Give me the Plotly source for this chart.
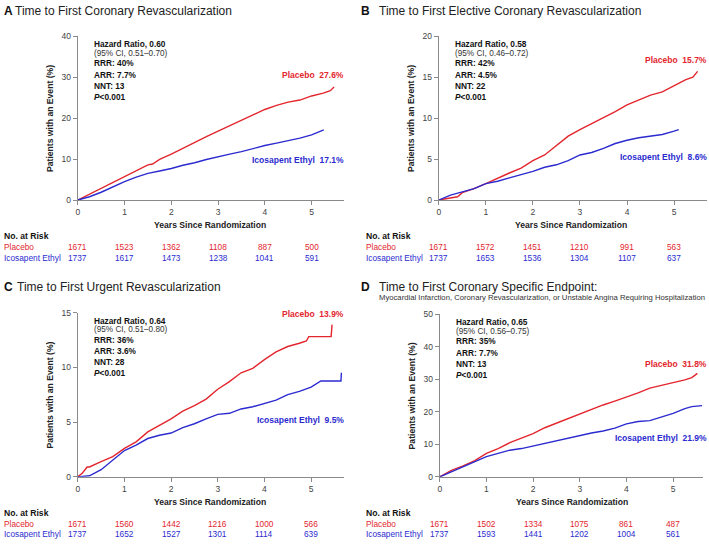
import plotly.graph_objects as go

W, H = 709, 544
RED = "#e3262e"
BLUE = "#2b2bcf"
FONT = "Liberation Sans, Arial, sans-serif"

# ---------------- data ----------------
a_t_pla = [0, 0.25, 0.5, 0.75, 1, 1.25, 1.5, 1.6, 1.75, 2, 2.25, 2.5, 2.75, 3, 3.25, 3.5, 3.75, 4, 4.25, 4.5, 4.75, 5, 5.25, 5.4, 5.48]
a_v_pla = [0, 1.4, 3.0, 4.3, 5.8, 7.2, 8.6, 8.8, 9.9, 11.2, 12.7, 14.1, 15.5, 16.8, 18.1, 19.5, 20.9, 22.1, 23.1, 23.9, 24.4, 25.4, 26.1, 26.7, 27.6]
a_t_ico = [0, 0.25, 0.5, 0.75, 1, 1.25, 1.5, 1.75, 2, 2.25, 2.5, 2.75, 3, 3.25, 3.5, 3.75, 4, 4.25, 4.5, 4.75, 5, 5.26]
a_v_ico = [0, 0.8, 1.9, 3.3, 4.5, 5.6, 6.5, 7.1, 7.7, 8.5, 9.1, 9.9, 10.6, 11.2, 11.8, 12.6, 13.3, 13.9, 14.5, 15.1, 15.9, 17.1]

b_t_pla = [0, 0.25, 0.4, 0.5, 0.75, 1, 1.25, 1.5, 1.75, 2, 2.25, 2.5, 2.75, 3, 3.25, 3.5, 3.75, 4, 4.25, 4.5, 4.75, 5, 5.25, 5.4, 5.5]
b_v_pla = [0, 0.3, 0.4, 0.9, 1.4, 2.0, 2.7, 3.3, 3.9, 4.8, 5.5, 6.7, 7.8, 8.6, 9.3, 10.0, 10.8, 11.6, 12.2, 12.8, 13.2, 13.9, 14.7, 15.0, 15.7]
b_t_ico = [0, 0.25, 0.5, 0.75, 1, 1.25, 1.5, 1.75, 2, 2.25, 2.5, 2.75, 3, 3.25, 3.5, 3.75, 4, 4.25, 4.5, 4.75, 5, 5.1]
b_v_ico = [0, 0.6, 1.0, 1.4, 2.0, 2.3, 2.7, 3.1, 3.5, 4.0, 4.3, 4.8, 5.5, 5.8, 6.3, 6.9, 7.3, 7.6, 7.8, 8.0, 8.4, 8.6]

c_t_pla = [0, 0.1, 0.2, 0.25, 0.5, 0.75, 1, 1.25, 1.5, 1.75, 2, 2.25, 2.5, 2.75, 3, 3.25, 3.5, 3.75, 4, 4.25, 4.5, 4.75, 4.9, 4.95, 5.43, 5.45]
c_v_pla = [0, 0.35, 0.9, 0.9, 1.4, 1.85, 2.6, 3.2, 4.1, 4.7, 5.3, 6.0, 6.5, 7.1, 8.0, 8.7, 9.5, 9.9, 10.7, 11.4, 11.9, 12.2, 12.4, 12.8, 12.8, 13.9]
c_t_ico = [0, 0.25, 0.5, 0.75, 1, 1.25, 1.5, 1.75, 2, 2.25, 2.5, 2.75, 3, 3.25, 3.5, 3.75, 4, 4.25, 4.5, 4.75, 5, 5.21, 5.64, 5.65]
c_v_ico = [0, 0.1, 0.65, 1.55, 2.4, 2.9, 3.5, 3.8, 4.0, 4.5, 4.85, 5.3, 5.7, 5.8, 6.2, 6.4, 6.7, 7.0, 7.5, 7.8, 8.2, 8.75, 8.75, 9.5]

d_t_pla = [0, 0.25, 0.5, 0.75, 1, 1.25, 1.5, 1.75, 2, 2.25, 2.5, 2.75, 3, 3.25, 3.5, 3.75, 4, 4.25, 4.5, 4.75, 5, 5.25, 5.4, 5.52]
d_v_pla = [0, 2.0, 3.4, 5.0, 7.2, 8.7, 10.5, 11.8, 13.3, 15.1, 16.5, 18.0, 19.5, 20.8, 22.1, 23.3, 24.5, 25.8, 27.3, 28.1, 29.1, 29.8, 30.5, 31.8]
d_t_ico = [0, 0.25, 0.5, 0.75, 1, 1.25, 1.5, 1.75, 2, 2.25, 2.5, 2.75, 3, 3.25, 3.5, 3.75, 4, 4.25, 4.5, 4.75, 5, 5.25, 5.4, 5.62]
d_v_ico = [0, 1.5, 3.0, 4.7, 6.2, 7.2, 8.2, 8.7, 9.5, 10.5, 11.3, 12.0, 12.8, 13.5, 14.1, 15.0, 16.3, 17.0, 17.3, 18.3, 19.5, 21.0, 21.6, 21.9]

risk_years = [0, 1, 2, 3, 4, 5]
a_risk_pla = [1671, 1523, 1362, 1108, 887, 500]
a_risk_ico = [1737, 1617, 1473, 1238, 1041, 591]
b_risk_pla = [1671, 1572, 1451, 1210, 991, 563]
b_risk_ico = [1737, 1653, 1536, 1304, 1107, 637]
c_risk_pla = [1671, 1560, 1442, 1216, 1000, 566]
c_risk_ico = [1737, 1652, 1527, 1301, 1114, 639]
d_risk_pla = [1671, 1502, 1334, 1075, 861, 487]
d_risk_ico = [1737, 1593, 1441, 1202, 1004, 561]

titles = ["Time to First Coronary Revascularization",
          "Time to First Elective Coronary Revascularization",
          "Time to First Urgent Revascularization",
          "Time to First Coronary Specific Endpoint:"]
subtitle_d = "Myocardial Infarction, Coronary Revascularization, or Unstable Angina Requiring Hospitalization"
letters = ["A", "B", "C", "D"]
hr_text = ["Hazard Ratio, 0.60", "Hazard Ratio, 0.58", "Hazard Ratio, 0.64", "Hazard Ratio, 0.65"]
ci_text = ["(95% CI, 0.51\u20130.70)", "(95% CI, 0.46\u20130.72)", "(95% CI, 0.51\u20130.80)", "(95% CI, 0.56\u20130.75)"]
rrr_text = ["RRR: 40%", "RRR: 42%", "RRR: 36%", "RRR: 35%"]
arr_text = ["ARR: 7.7%", "ARR: 4.5%", "ARR: 3.6%", "ARR: 7.7%"]
nnt_text = ["NNT: 13", "NNT: 22", "NNT: 28", "NNT: 13"]
pla_end = ["27.6%", "15.7%", "13.9%", "31.8%"]
ico_end = ["17.1%", "8.6%", "9.5%", "21.9%"]
y_max = [40, 20, 15, 50]
y_dtick = [10, 5, 5, 10]

# ---------------- layout geometry (pixels) ----------------
def px(x):
    return x / W

def py(y):
    return 1 - y / H

panels = [
    dict(x0=76, x1=343.3, y0=198.7, y1=31.7, xr=5.70, left=2, letter_x=2, title_x=13, title_y=6),
    dict(x0=438, x1=707, y0=198.7, y1=31.7, xr=5.70, left=365, letter_x=360, title_x=378, title_y=6),
    dict(x0=76, x1=342.7, y0=480.7, y1=313.3, xr=5.70, left=2, letter_x=2, title_x=15, title_y=287),
    dict(x0=439, x1=703, y0=480.7, y1=315, xr=5.64, left=365, letter_x=360, title_x=378, title_y=287),
]
series = [
    (a_t_pla, a_v_pla, a_t_ico, a_v_ico, a_risk_pla, a_risk_ico),
    (b_t_pla, b_v_pla, b_t_ico, b_v_ico, b_risk_pla, b_risk_ico),
    (c_t_pla, c_v_pla, c_t_ico, c_v_ico, c_risk_pla, c_risk_ico),
    (d_t_pla, d_v_pla, d_t_ico, d_v_ico, d_risk_pla, d_risk_ico),
]
pla_label_y = [71, 56, 315, 366]
ico_label_y = [158, 155, 423, 441]
pla_label_x = [343, 707, 343, 707]
stat_offsets = [8.3, 17.3, 27.8, 39.3, 50.8, 61.8]

fig = go.Figure()
layout = dict(width=W, height=H, margin=dict(l=0, r=0, t=0, b=0),
              paper_bgcolor="white", plot_bgcolor="white", showlegend=False,
              font=dict(family=FONT, color="#222"))
ann = []

def A(text, x, y, size, color="#222", xanchor="left", yanchor="middle", xref="paper", yref="paper", angle=0):
    ann.append(dict(text=text, x=x, y=y, xref=xref, yref=yref, showarrow=False,
                    xanchor=xanchor, yanchor=yanchor, textangle=angle,
                    borderpad=0, borderwidth=0,
                    font=dict(size=size, color=color, family=FONT)))

axis_style = dict(showline=True, linecolor="#8a8a8a", linewidth=1, ticks="outside",
                  ticklen=4, tickcolor="#8a8a8a", showgrid=False, zeroline=False,
                  tickfont=dict(size=8.5, color="#444", family=FONT), fixedrange=True)

for i, p in enumerate(panels):
    k = "" if i == 0 else str(i + 1)
    layout["xaxis" + k] = dict(domain=[px(p["x0"]), px(p["x1"])], range=[0, p["xr"]],
                               anchor="y" + k, tickvals=risk_years, **axis_style)
    layout["yaxis" + k] = dict(domain=[py(p["y0"]), py(p["y1"])], range=[0, y_max[i]],
                               anchor="x" + k, dtick=y_dtick[i], **axis_style)
    tp, vp, ti, vi, rp, ri = series[i]
    fig.add_trace(go.Scatter(x=tp, y=vp, mode="lines", line=dict(color=RED, width=1.4),
                             xaxis="x" + k, yaxis="y" + k, hoverinfo="skip"))
    fig.add_trace(go.Scatter(x=ti, y=vi, mode="lines", line=dict(color=BLUE, width=1.4),
                             xaxis="x" + k, yaxis="y" + k, hoverinfo="skip"))

    # titles
    A("<b>" + letters[i] + "</b>", px(p["letter_x"]), py(p["title_y"]), 12, "#111")
    A(titles[i], px(p["title_x"]), py(p["title_y"]), 12, "#222")

    # axis titles
    A("<b>Patients with an Event (%)</b>", px(p["x0"] - 28), py((p["y0"] + p["y1"]) / 2), 8.6,
      "#222", xanchor="center", angle=-90)
    A("<b>Years Since Randomization</b>", px(p["x0"] + 133), py(p["y0"] + 25.5), 8.6,
      "#222", xanchor="center")

    # stats block
    sx = px(p["x0"] + 16)
    top = p["y1"]
    o = stat_offsets
    A("<b>" + hr_text[i] + "</b>", sx, py(top + o[0]), 8.3, "#111")
    A(ci_text[i], sx, py(top + o[1]), 8.2, "#333")
    A("<b>" + rrr_text[i] + "</b>", sx, py(top + o[2]), 8.3, "#111")
    A("<b>" + arr_text[i] + "</b>", sx, py(top + o[3]), 8.3, "#111")
    A("<b>" + nnt_text[i] + "</b>", sx, py(top + o[4]), 8.3, "#111")
    A("<b><i>P</i>&lt;0.001</b>", sx, py(top + o[5]), 8.3, "#111")

    # end labels
    A("<b>Placebo  " + pla_end[i] + "</b>", px(pla_label_x[i]), py(pla_label_y[i]), 8.5, RED, xanchor="right")
    A("<b>Icosapent Ethyl  " + ico_end[i] + "</b>", px(pla_label_x[i]), py(ico_label_y[i]), 8.5, BLUE, xanchor="right")

    # numbers at risk
    ry0 = p["y0"] + 36.8
    A("<b>No. at Risk</b>", px(p["left"]), py(ry0), 8.6, "#111")
    A("Placebo", px(p["left"]), py(ry0 + 11.3), 8.3, RED)
    A("Icosapent Ethyl", px(p["left"]), py(ry0 + 21.8), 8.3, BLUE)
    for yr, n1, n2 in zip(risk_years, rp, ri):
        A(str(n1), yr, py(ry0 + 11.3), 8.3, RED, xanchor="center", xref="x" + k)
        A(str(n2), yr, py(ry0 + 21.8), 8.3, BLUE, xanchor="center", xref="x" + k)

A(subtitle_d, px(378), py(298), 7.7, "#333")

layout["annotations"] = ann
fig.update_layout(**layout)
fig.write_html("out.html", config={"displayModeBar": False},
               post_script="document.body.style.margin='0';document.body.style.padding='0';"
                           "document.documentElement.style.overflow='hidden';")
